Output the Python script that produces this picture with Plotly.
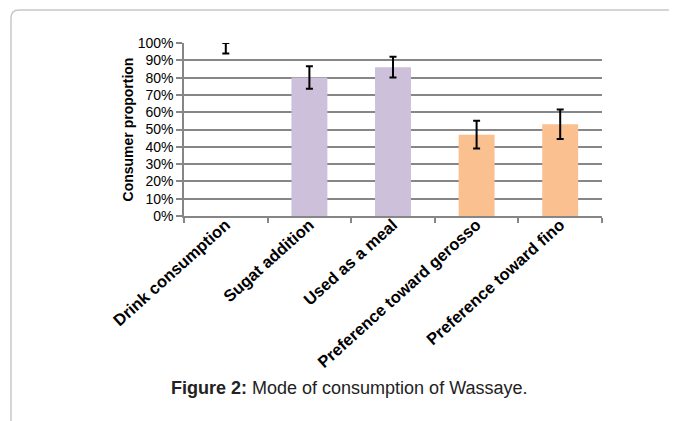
import plotly.graph_objects as go

categories = ["Drink consumption", "Sugat addition", "Used as a meal",
              "Preference toward gerosso", "Preference toward fino"]
values = [97, 80, 86, 47, 53]
errors = [3, 6.5, 6, 8, 8.5]
bar_colors = ["rgba(0,0,0,0)", "#CCC0DA", "#CCC0DA", "#FAC090", "#FAC090"]
y_ticks = [0, 10, 20, 30, 40, 50, 60, 70, 80, 90, 100]

OFF = 8  # page body margin
W, H = 677 - OFF, 421 - OFF
L, R, T, B = 184, 602, 43, 216  # target page pixels of plot area

fig = go.Figure()
fig.add_trace(go.Bar(
    x=categories, y=values,
    marker=dict(color=bar_colors, line=dict(width=0)),
    error_y=dict(type="data", array=errors, visible=True,
                 color="black", thickness=2, width=3.5),
    showlegend=False,
))

def px2x(px):
    return (px - L) / (R - L)

def py2y(py):
    return (B - py) / (B - T)

# frame (rounded top-left corner)
x0, xr = px2x(11), px2x(690)
yt, yb = py2y(10), py2y(440)
rx, ry = 8 / (R - L), 8 / (B - T)
path = (f"M {x0},{yb} L {x0},{yt-ry} Q {x0},{yt} {x0+rx},{yt} L {xr},{yt}")
fig.add_shape(type="path", path=path, xref="paper", yref="paper",
              line=dict(color="#c8c8c8", width=1.5))

fig.add_annotation(
    text="<b>Figure 2:</b> Mode of consumption of Wassaye.",
    xref="paper", yref="paper", x=px2x(349), y=py2y(388),
    showarrow=False, font=dict(family="Arial, Liberation Sans", size=18, color="#222"),
    xanchor="center", yanchor="middle")

fig.update_layout(
    width=W, height=H,
    margin=dict(l=L - OFF, r=W - (R - OFF), t=T - OFF, b=H - (B - OFF), pad=0),
    paper_bgcolor="white", plot_bgcolor="white",
    bargap=0.57,
    font=dict(family="Arial, Liberation Sans", color="black"),
    xaxis=dict(
        type="category",
        tickmode="array", tickvals=categories,
        ticktext=[f"<b>{c}</b>" for c in categories],
        tickangle=-42, tickfont=dict(size=16.5, color="black"),
        tickson="boundaries", ticks="outside", ticklen=5, tickwidth=1.5,
        tickcolor="#868686", ticklabelstandoff=-9,
        showline=True, linecolor="#868686", linewidth=1.5,
        showgrid=False, zeroline=False,
    ),
    yaxis=dict(
        range=[0, 100], tickmode="array", tickvals=y_ticks,
        ticktext=[f"{v}%" for v in y_ticks],
        tickfont=dict(size=14, color="black"),
        ticks="outside", ticklen=6, tickwidth=1.5, tickcolor="#868686",
        showgrid=True, gridcolor="#868686", gridwidth=1.5,
        showline=True, linecolor="#868686", linewidth=1.5,
        zeroline=False,
        title=dict(text="<b>Consumer proportion</b>", font=dict(size=14), standoff=1),
    ),
)

fig.write_html("out.html")
